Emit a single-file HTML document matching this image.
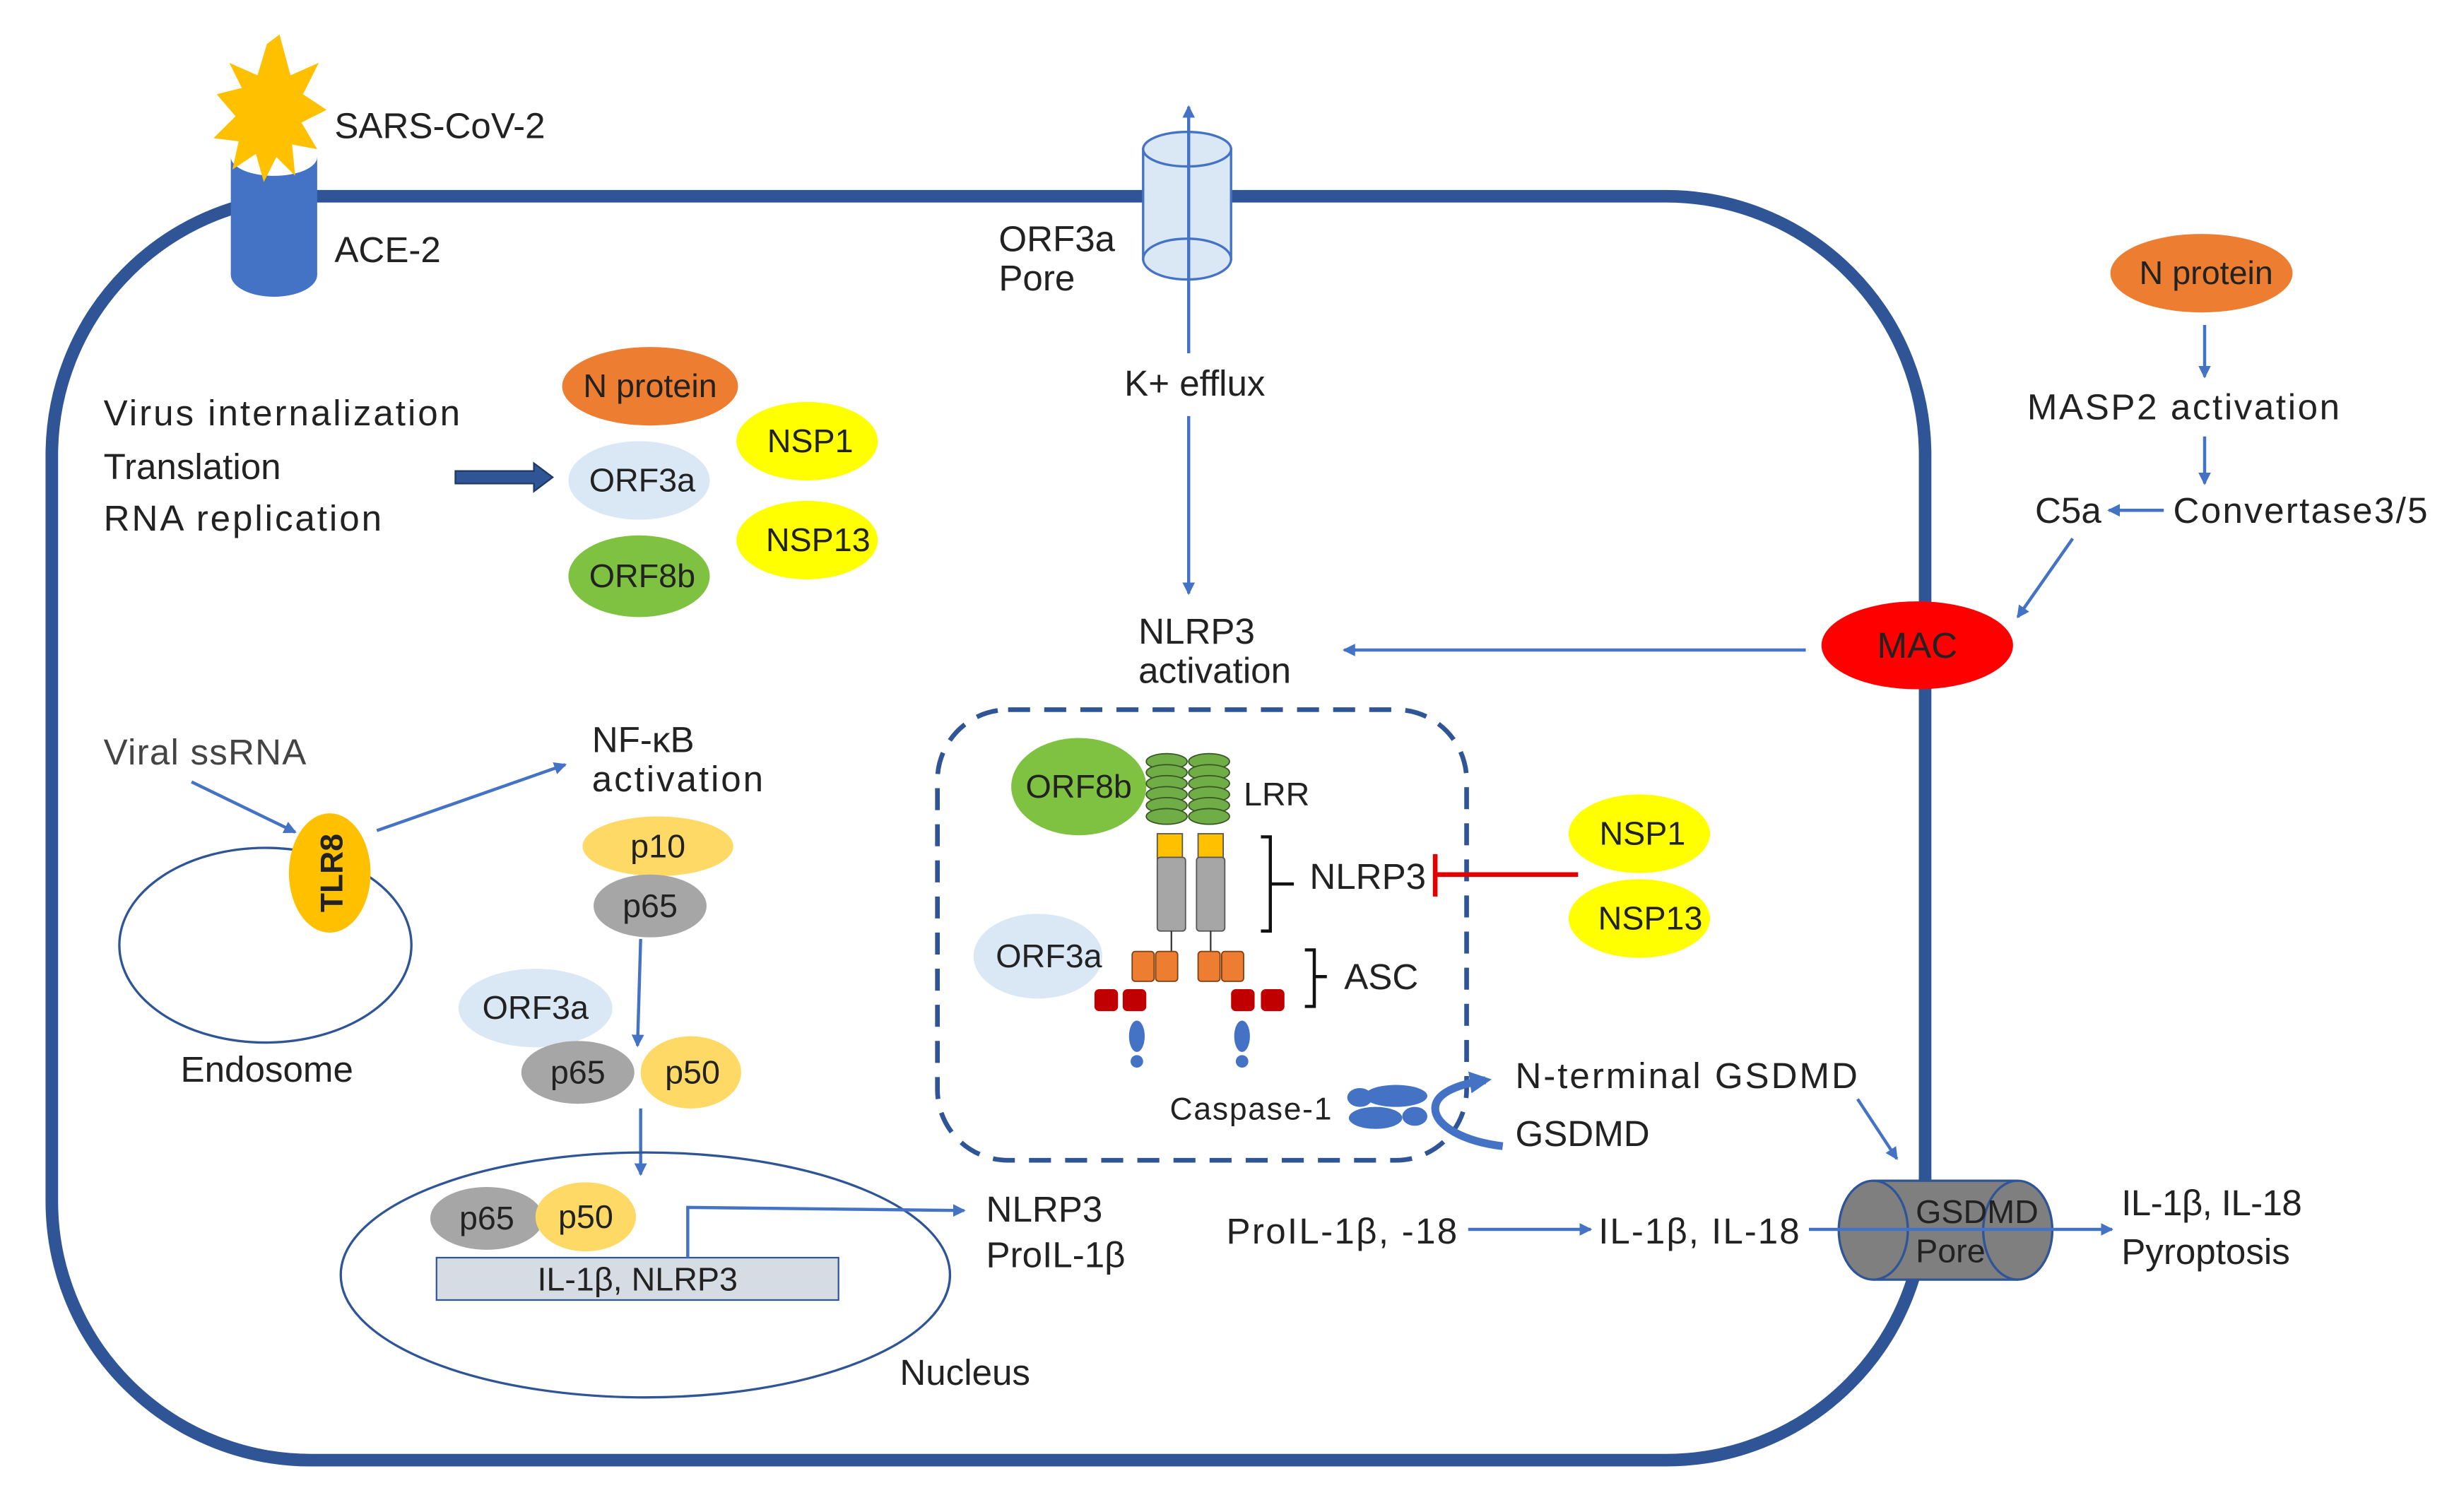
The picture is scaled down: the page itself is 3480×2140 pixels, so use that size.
<!DOCTYPE html>
<html><head><meta charset="utf-8"><style>
html,body{margin:0;padding:0;background:#fff;}
svg{display:block;}
text{font-family:"Liberation Sans",sans-serif;fill:#222;}
</style></head><body>
<svg width="3480" height="2140" viewBox="0 0 1566 963" preserveAspectRatio="none" xmlns="http://www.w3.org/2000/svg">
<defs>
<marker id="a" markerWidth="8" markerHeight="8" refX="7" refY="4" orient="auto" markerUnits="userSpaceOnUse"><path d="M0,0 L8,4 L0,8 Z" fill="#4472c4"/></marker>
<marker id="a2" markerWidth="16" markerHeight="16" refX="10" refY="8" orient="auto" markerUnits="userSpaceOnUse"><path d="M0,1 L14,8 L0,15 Z" fill="#4472c4"/></marker>
</defs>
<rect x="33" y="125" width="1193" height="805" rx="165" ry="165" fill="none" stroke="#2f5597" stroke-width="8"/>
<rect x="147" y="100" width="55" height="75" fill="#4472c4"/>
<ellipse cx="174.5" cy="175" rx="27.5" ry="14" fill="#4472c4"/>
<ellipse cx="174.5" cy="100" rx="27.5" ry="12" fill="#fff"/>
<polygon points="178,22 185,48 203,40 193,60 208,70 192,78 202,95 186,92 188,112 176,100 168,116 163,98 148,108 152,90 136,88 150,74 138,60 154,56 146,40 164,48 170,28" fill="#ffc000"/>
<text x="213" y="88" font-size="23">SARS-CoV-2</text>
<text x="213" y="167" font-size="23">ACE-2</text>
<rect x="728" y="95" width="56" height="70" fill="#dae8f5" stroke="#4472c4" stroke-width="1.5"/>
<ellipse cx="756" cy="165" rx="28" ry="13" fill="#dae8f5" stroke="#4472c4" stroke-width="1.5"/>
<ellipse cx="756" cy="95" rx="28" ry="11" fill="#dae8f5" stroke="#4472c4" stroke-width="1.5"/>
<line x1="757" y1="225" x2="757" y2="68" stroke="#4472c4" stroke-width="2" marker-end="url(#a)"/>
<text x="636" y="160" font-size="23">ORF3a</text>
<text x="636" y="185" font-size="23">Pore</text>
<text x="716" y="252" font-size="23">K+ efflux</text>
<line x1="757" y1="265" x2="757" y2="378" stroke="#4472c4" stroke-width="2" marker-end="url(#a)"/>
<text x="725" y="410" font-size="23">NLRP3</text>
<text x="725" y="435" font-size="23">activation</text>
<text x="66" y="271" font-size="23" textLength="227">Virus internalization</text>
<text x="66" y="305" font-size="23">Translation</text>
<text x="66" y="338" font-size="23" textLength="177">RNA replication</text>
<path d="M290,300 L340,300 L340,295 L352,304 L340,313 L340,308 L290,308 Z" fill="#2f5597" stroke="#1f3864" stroke-width="1"/>
<ellipse cx="414" cy="246" rx="56" ry="25" fill="#ed7d31"/><text x="414" y="253" font-size="21" text-anchor="middle">N protein</text>
<ellipse cx="407" cy="306" rx="45" ry="25" fill="#dae8f5"/><text x="409" y="313" font-size="21" text-anchor="middle">ORF3a</text>
<ellipse cx="407" cy="367" rx="45" ry="26" fill="#7fc241"/><text x="409" y="374" font-size="21" text-anchor="middle">ORF8b</text>
<ellipse cx="514" cy="281" rx="45" ry="25" fill="#ffff00"/><text x="516" y="288" font-size="21" text-anchor="middle">NSP1</text>
<ellipse cx="514" cy="344" rx="45" ry="25" fill="#ffff00"/><text x="521" y="351" font-size="21" text-anchor="middle">NSP13</text>
<ellipse cx="1402" cy="174" rx="58" ry="25" fill="#ed7d31"/><text x="1405" y="181" font-size="21" text-anchor="middle">N protein</text>
<line x1="1404" y1="207" x2="1404" y2="240" stroke="#4472c4" stroke-width="2" marker-end="url(#a)"/>
<text x="1291" y="267" font-size="23" textLength="199">MASP2 activation</text>
<line x1="1404" y1="278" x2="1404" y2="308" stroke="#4472c4" stroke-width="2" marker-end="url(#a)"/>
<text x="1384" y="333" font-size="23" textLength="162">Convertase3/5</text>
<line x1="1378" y1="325" x2="1343" y2="325" stroke="#4472c4" stroke-width="2" marker-end="url(#a)"/>
<text x="1296" y="333" font-size="23">C5a</text>
<line x1="1320" y1="343" x2="1285" y2="393" stroke="#4472c4" stroke-width="2" marker-end="url(#a)"/>
<ellipse cx="1221" cy="411" rx="61" ry="28" fill="#ff0000"/><text x="1221" y="419" font-size="23" text-anchor="middle">MAC</text>
<line x1="1150" y1="414" x2="856" y2="414" stroke="#4472c4" stroke-width="2" marker-end="url(#a)"/>
<rect x="597" y="452" width="337" height="287" rx="45" fill="none" stroke="#2f5597" stroke-width="3" stroke-dasharray="14,9"/>
<ellipse cx="687" cy="501" rx="43" ry="31" fill="#7fc241"/><text x="687" y="508" font-size="21" text-anchor="middle">ORF8b</text>
<g fill="#70ad47" stroke="#375623" stroke-width="0.8">
<ellipse cx="743" cy="485" rx="13" ry="5"/><ellipse cx="743" cy="492" rx="13" ry="5"/><ellipse cx="743" cy="499" rx="13" ry="5"/><ellipse cx="743" cy="506" rx="13" ry="5"/><ellipse cx="743" cy="513" rx="13" ry="5"/><ellipse cx="743" cy="520" rx="13" ry="5"/>
<ellipse cx="770" cy="485" rx="13" ry="5"/><ellipse cx="770" cy="492" rx="13" ry="5"/><ellipse cx="770" cy="499" rx="13" ry="5"/><ellipse cx="770" cy="506" rx="13" ry="5"/><ellipse cx="770" cy="513" rx="13" ry="5"/><ellipse cx="770" cy="520" rx="13" ry="5"/>
</g>
<text x="792" y="513" font-size="21">LRR</text>
<rect x="737" y="531" width="16" height="16" fill="#ffc000" stroke="#555" stroke-width="0.8"/>
<rect x="763" y="531" width="16" height="16" fill="#ffc000" stroke="#555" stroke-width="0.8"/>
<rect x="737" y="546" width="18" height="47" rx="2" fill="#a6a6a6" stroke="#555" stroke-width="0.8"/>
<rect x="762" y="546" width="18" height="47" rx="2" fill="#a6a6a6" stroke="#555" stroke-width="0.8"/>
<line x1="746" y1="593" x2="746" y2="606" stroke="#333"/><line x1="771" y1="593" x2="771" y2="606" stroke="#333"/>
<g fill="#ed7d31" stroke="#7f3f10" stroke-width="0.8">
<rect x="721" y="606" width="14" height="19" rx="2"/><rect x="736" y="606" width="14" height="19" rx="2"/>
<rect x="763" y="606" width="14" height="19" rx="2"/><rect x="778" y="606" width="14" height="19" rx="2"/>
</g>
<g fill="#c00000">
<rect x="697" y="630" width="15" height="14" rx="3"/><rect x="715" y="630" width="15" height="14" rx="3"/>
<rect x="784" y="630" width="15" height="14" rx="3"/><rect x="803" y="630" width="15" height="14" rx="3"/>
</g>
<g fill="#4472c4"><ellipse cx="724" cy="660" rx="5" ry="10"/><circle cx="724" cy="676" r="4"/><ellipse cx="791" cy="660" rx="5" ry="10"/><circle cx="791" cy="676" r="4"/></g>
<path d="M803,533 h6 v60 h-6 M809,563 h15" fill="none" stroke="#111" stroke-width="2"/>
<text x="834" y="566" font-size="23">NLRP3</text>
<path d="M831,605 h6 v36 h-6 M837,622 h8" fill="none" stroke="#111" stroke-width="2"/>
<text x="856" y="630" font-size="23">ASC</text>
<ellipse cx="661" cy="609" rx="41" ry="27" fill="#dae8f5"/><text x="668" y="616" font-size="21" text-anchor="middle">ORF3a</text>
<line x1="1005" y1="557" x2="914" y2="557" stroke="#e00000" stroke-width="3"/>
<line x1="914" y1="544" x2="914" y2="571" stroke="#e00000" stroke-width="3"/>
<ellipse cx="1044" cy="531" rx="45" ry="25" fill="#ffff00"/><text x="1046" y="538" font-size="21" text-anchor="middle">NSP1</text>
<ellipse cx="1044" cy="585" rx="45" ry="25" fill="#ffff00"/><text x="1051" y="592" font-size="21" text-anchor="middle">NSP13</text>
<text x="745" y="713" font-size="20" textLength="103">Caspase-1</text>
<g fill="#4472c4"><ellipse cx="866" cy="699" rx="8" ry="6"/><ellipse cx="889" cy="698" rx="20" ry="7"/><ellipse cx="876" cy="712" rx="17" ry="7"/><ellipse cx="901" cy="711" rx="8" ry="6"/></g>
<path d="M957,730 C932,727 914,717 914,706 C914,695 932,690 946,688" fill="none" stroke="#4472c4" stroke-width="5" marker-end="url(#a2)"/>
<text x="965" y="693" font-size="23" textLength="218">N-terminal GSDMD</text>
<text x="965" y="730" font-size="23">GSDMD</text>
<line x1="1183" y1="700" x2="1208" y2="738" stroke="#4472c4" stroke-width="2" marker-end="url(#a)"/>
<rect x="1193" y="752" width="92" height="63" fill="#7f7f7f"/>
<ellipse cx="1193" cy="783.5" rx="22" ry="31.5" fill="#7f7f7f" stroke="#2f5597" stroke-width="1.5"/>
<ellipse cx="1285" cy="783.5" rx="22" ry="31.5" fill="#7f7f7f" stroke="#2f5597" stroke-width="1.5"/>
<line x1="1193" y1="752" x2="1285" y2="752" stroke="#2f5597" stroke-width="1.5"/>
<line x1="1193" y1="815" x2="1285" y2="815" stroke="#2f5597" stroke-width="1.5"/>
<text x="1220" y="779" font-size="21">GSDMD</text>
<text x="1220" y="804" font-size="21">Pore</text>
<text x="781" y="792" font-size="23" textLength="147">ProIL-1β, -18</text>
<line x1="935" y1="783" x2="1013" y2="783" stroke="#4472c4" stroke-width="2" marker-end="url(#a)"/>
<text x="1018" y="792" font-size="23" textLength="128">IL-1β, IL-18</text>
<line x1="1152" y1="783" x2="1345" y2="783" stroke="#4472c4" stroke-width="2" marker-end="url(#a)"/>
<text x="1351" y="774" font-size="23" textLength="115">IL-1β, IL-18</text>
<text x="1351" y="805" font-size="23">Pyroptosis</text>
<text x="66" y="487" font-size="23" style="fill:#444" textLength="129">Viral ssRNA</text>
<line x1="122" y1="498" x2="188" y2="530" stroke="#4472c4" stroke-width="2" marker-end="url(#a)"/>
<ellipse cx="169" cy="602" rx="93" ry="62" fill="none" stroke="#2f5597" stroke-width="1.5"/>
<ellipse cx="210" cy="556" rx="26" ry="38" fill="#ffc000"/>
<text transform="translate(218,556) rotate(-90)" font-size="20" font-weight="bold" text-anchor="middle">TLR8</text>
<text x="115" y="689" font-size="23">Endosome</text>
<line x1="240" y1="529" x2="360" y2="487" stroke="#4472c4" stroke-width="2" marker-end="url(#a)"/>
<text x="377" y="479" font-size="23">NF-κB</text>
<text x="377" y="504" font-size="23" textLength="109">activation</text>
<ellipse cx="419" cy="539" rx="48" ry="19" fill="#ffd966"/><text x="419" y="546" font-size="21" text-anchor="middle">p10</text>
<ellipse cx="414" cy="577" rx="36" ry="20" fill="#a6a6a6"/><text x="414" y="584" font-size="21" text-anchor="middle">p65</text>
<line x1="408" y1="598" x2="406" y2="666" stroke="#4472c4" stroke-width="2" marker-end="url(#a)"/>
<ellipse cx="341" cy="642" rx="49" ry="25" fill="#dae8f5"/><text x="341" y="649" font-size="21" text-anchor="middle">ORF3a</text>
<ellipse cx="368" cy="683" rx="36" ry="20" fill="#a6a6a6"/><text x="368" y="690" font-size="21" text-anchor="middle">p65</text>
<ellipse cx="440" cy="683" rx="32" ry="23" fill="#ffd966"/><text x="441" y="690" font-size="21" text-anchor="middle">p50</text>
<line x1="408" y1="706" x2="408" y2="748" stroke="#4472c4" stroke-width="2" marker-end="url(#a)"/>
<ellipse cx="411" cy="812" rx="194" ry="78" fill="none" stroke="#2f5597" stroke-width="1.5"/>
<ellipse cx="310" cy="776" rx="36" ry="20" fill="#a6a6a6"/><text x="310" y="783" font-size="21" text-anchor="middle">p65</text>
<ellipse cx="373" cy="775" rx="32" ry="22" fill="#ffd966"/><text x="373" y="782" font-size="21" text-anchor="middle">p50</text>
<rect x="278" y="801" width="256" height="27" fill="#d6dce4" stroke="#2f5597" stroke-width="1"/>
<text x="406" y="822" font-size="21" text-anchor="middle">IL-1β, NLRP3</text>
<polyline points="438,801 438,769 614,771" fill="none" stroke="#4472c4" stroke-width="2" marker-end="url(#a)"/>
<text x="628" y="778" font-size="23">NLRP3</text>
<text x="628" y="807" font-size="23">ProIL-1β</text>
<text x="573" y="882" font-size="23">Nucleus</text>
</svg>
</body></html>
